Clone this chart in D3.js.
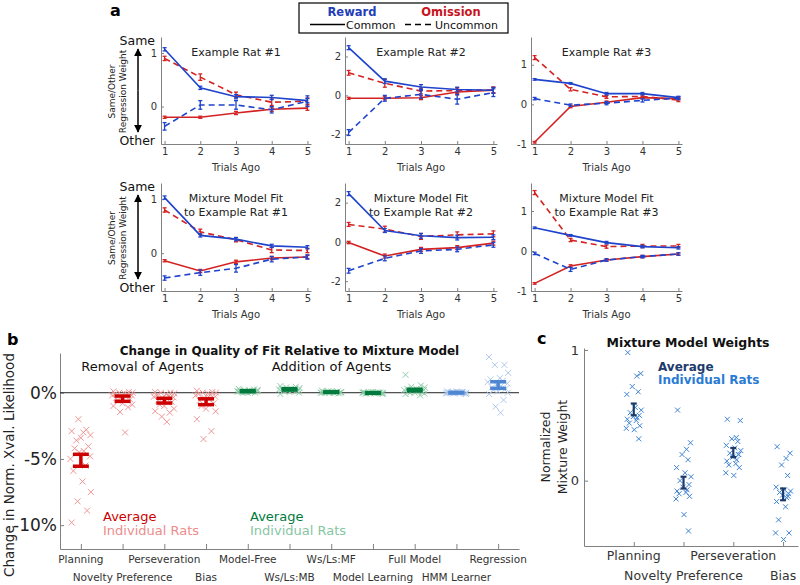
<!DOCTYPE html>
<html><head><meta charset="utf-8">
<script src="https://cdn.jsdelivr.net/npm/d3@7"></script>
<style>
body{margin:0;background:#fff}
svg{font-family:"DejaVu Sans",Verdana,sans-serif}
</style>
</head><body>
<svg id="fig" width="800" height="585"></svg>
<script>
// ---------------- DATA ----------------
const trialsAgo = [1, 2, 3, 4, 5];
// series order: Reward Common, Reward Uncommon, Omission Common, Omission Uncommon
const seriesNames = ["Reward Common", "Reward Uncommon", "Omission Common", "Omission Uncommon"];

const rat1Obs = [
  [1.07, 0.35, 0.185, 0.17, 0.11],
  [-0.37, 0.03, 0.03, -0.06, 0.1],
  [-0.2, -0.2, -0.12, -0.05, -0.03],
  [0.9, 0.55, 0.22, 0.08, 0.1]
];
const rat1ObsErr = [
  [0.03, 0.03, 0.04, 0.04, 0.04],
  [0.07, 0.08, 0.08, 0.06, 0.1],
  [0.02, 0.02, 0.03, 0.04, 0.04],
  [0.04, 0.06, 0.05, 0.06, 0.06]
];
const rat2Obs = [
  [2.45, 0.73, 0.43, 0.3, 0.26],
  [-1.91, -0.15, 0.05, -0.2, 0.14],
  [-0.15, -0.15, -0.12, 0.17, 0.26],
  [1.16, 0.62, 0.22, 0.25, 0.28]
];
const rat2ObsErr = [
  [0.1, 0.12, 0.12, 0.12, 0.15],
  [0.15, 0.15, 0.2, 0.25, 0.2],
  [0.05, 0.08, 0.1, 0.15, 0.15],
  [0.12, 0.2, 0.15, 0.15, 0.15]
];
const rat3Obs = [
  [0.63, 0.53, 0.27, 0.27, 0.17],
  [0.145, -0.02, 0.03, 0.1, 0.16],
  [-0.955, -0.055, 0.055, 0.17, 0.145],
  [1.18, 0.38, 0.19, 0.2, 0.11]
];
const rat3ObsErr = [
  [0.02, 0.02, 0.03, 0.03, 0.03],
  [0.03, 0.03, 0.04, 0.04, 0.04],
  [0.02, 0.03, 0.03, 0.03, 0.03],
  [0.05, 0.04, 0.04, 0.04, 0.04]
];
const rat1Fit = [
  [1.03, 0.33, 0.26, 0.135, 0.11],
  [-0.46, -0.36, -0.28, -0.11, -0.07],
  [-0.14, -0.33, -0.16, -0.09, -0.07],
  [0.8, 0.395, 0.25, 0.06, 0.05]
];
const rat1FitErr = [
  [0.03, 0.03, 0.03, 0.03, 0.03],
  [0.04, 0.05, 0.07, 0.05, 0.04],
  [0.02, 0.03, 0.03, 0.03, 0.03],
  [0.04, 0.05, 0.04, 0.05, 0.04]
];
const rat2Fit = [
  [2.46, 0.58, 0.31, 0.22, 0.24],
  [-1.47, -0.84, -0.46, -0.38, -0.15],
  [-0.03, -0.72, -0.38, -0.29, -0.06],
  [0.89, 0.65, 0.28, 0.36, 0.41]
];
const rat2FitErr = [
  [0.1, 0.1, 0.12, 0.12, 0.12],
  [0.12, 0.12, 0.12, 0.12, 0.12],
  [0.06, 0.1, 0.1, 0.1, 0.1],
  [0.1, 0.15, 0.15, 0.15, 0.15]
];
const rat3Fit = [
  [0.58, 0.39, 0.21, 0.11, 0.08],
  [-0.06, -0.46, -0.225, -0.14, -0.075],
  [-0.81, -0.375, -0.225, -0.14, -0.075],
  [1.46, 0.275, 0.11, 0.125, 0.125]
];
const rat3FitErr = [
  [0.02, 0.02, 0.03, 0.03, 0.03],
  [0.03, 0.05, 0.03, 0.03, 0.03],
  [0.02, 0.03, 0.03, 0.03, 0.03],
  [0.05, 0.04, 0.04, 0.04, 0.04]
];
const obsTitles = [["Example Rat #1"], ["Example Rat #2"], ["Example Rat #3"]];
const fitTitles = [["Mixture Model Fit", "to Example Rat #1"], ["Mixture Model Fit", "to Example Rat #2"], ["Mixture Model Fit", "to Example Rat #3"]];
const aYDomains = [[-0.7, 1.3], [-2.5, 3], [-1, 1.7]];
const aYTicks = [[0, 1], [-2, 0, 2], [-1, 0, 1]];

// Panel b
const bCategories = ["Planning", "Novelty Preference", "Perseveration", "Bias", "Model-Free", "Ws/Ls:MB",
  "Ws/Ls:MF", "Model Learning", "Full Model", "HMM Learner", "Regression"];
const bGroup = ["removal", "removal", "removal", "removal", "addition", "addition", "addition", "addition", "addition", "other", "other"];
const bMeans = [-5.1, -0.45, -0.6, -0.68, 0.12, 0.25, 0.05, -0.02, 0.2, 0.0, 0.58];
const bSems = [0.45, 0.2, 0.18, 0.22, 0.04, 0.05, 0.02, 0.02, 0.06, 0.02, 0.25];
const bIndividual = [
  [-9.8, -8.9, -8.2, -7.5, -6.7, -5.9, -5.5, -5.0, -4.8, -4.5, -4.4, -4.2, -4.05, -3.6, -3.4, -3.2, -2.9, -2.8, -2.0, -3.0],
  [0.1, 0.05, 0, 0, -0.05, -0.1, -0.1, -0.2, -0.2, -0.3, -0.3, -0.4, -0.5, -0.6, -0.8, -0.9, -1.0, -1.1, -1.45, -3.0],
  [0.05, 0, 0, -0.05, -0.1, -0.2, -0.25, -0.3, -0.35, -0.4, -0.5, -0.6, -0.7, -0.9, -1.0, -1.2, -1.4, -1.5, -1.8, -2.2],
  [0.15, 0.05, 0, 0, -0.05, -0.1, -0.15, -0.2, -0.3, -0.4, -0.5, -0.6, -0.8, -1.0, -1.2, -1.4, -2.0, -2.9, -3.5, -0.3],
  [0.3, 0.25, 0.2, 0.2, 0.15, 0.15, 0.1, 0.1, 0.1, 0.05, 0.05, 0.05, 0, 0, 0, 0.2, 0.1, 0.15, 0.05, 0.1],
  [0.5, 0.45, 0.4, 0.35, 0.3, 0.3, 0.25, 0.25, 0.2, 0.2, 0.2, 0.15, 0.1, 0.1, 0.05, 0, -0.1, 0.3, 0.25, 0.2],
  [0.15, 0.1, 0.1, 0.05, 0.05, 0.05, 0, 0, 0, 0, 0, 0, -0.05, 0.05, 0.1, 0.05, 0, 0.05, 0.1, 0],
  [0.05, 0, 0, 0, -0.05, -0.05, 0, 0, -0.05, 0.05, 0, -0.05, 0, 0, 0.05, -0.1, 0, 0, -0.05, 0],
  [1.35, 0.55, 0.45, 0.4, 0.3, 0.3, 0.25, 0.2, 0.2, 0.15, 0.1, 0.1, 0.05, 0, 0, -0.05, -0.1, -0.2, 0.15, 0.2],
  [0.1, 0.05, 0.05, 0, 0, 0, 0, -0.05, -0.05, 0, 0.05, 0, -0.05, 0, 0.1, -0.1, 0, 0.05, -0.05, 0],
  [2.7, 2.1, 2.1, 1.5, 1.1, 1.0, 0.9, 0.8, 0.7, 0.6, 0.5, 0.4, 0.3, 0.2, 0.1, 0, -0.1, -0.55, -1.05, -1.5]
];
const bJitter = [-0.22, 0.15, -0.08, 0.24, 0.04, -0.18, 0.11, -0.25, 0.22, -0.04, 0.07, -0.15, 0.18, -0.11, 0.0, 0.23, -0.22, 0.13, -0.06, 0.06];
const bYTicks = [0, -5, -10];

// Panel c
const cCategories = ["Planning", "Novelty Preference", "Perseveration", "Bias"];
const cMeans = [0.545, -0.015, 0.215, -0.105];
const cSems = [0.045, 0.045, 0.035, 0.045];
const cIndividual = [
  [0.98, 0.82, 0.80, 0.72, 0.68, 0.66, 0.56, 0.54, 0.52, 0.50, 0.49, 0.48, 0.47, 0.46, 0.44, 0.42, 0.40, 0.39, 0.32],
  [0.54, 0.29, 0.24, 0.20, 0.16, 0.10, 0.06, 0.03, 0.0, -0.03, -0.05, -0.07, -0.08, -0.09, -0.10, -0.12, -0.14, -0.26, -0.385],
  [0.47, 0.46, 0.33, 0.32, 0.30, 0.27, 0.25, 0.23, 0.21, 0.20, 0.18, 0.16, 0.15, 0.13, 0.12, 0.10, 0.06, 0.04, 0.2],
  [0.26, 0.21, 0.17, 0.12, 0.04, -0.05, -0.07, -0.08, -0.09, -0.10, -0.11, -0.13, -0.16, -0.20, -0.30, -0.40, -0.40, -0.45, -0.12]
];
const cJitter = [-0.12, 0.14, 0.06, -0.03, 0.09, -0.14, 0.03, 0.15, -0.07, 0.11, -0.01, 0.07, -0.13, 0.05, -0.09, 0.12, -0.15, 0.01, 0.1];
const cYTicks = [0, 1];

// ---------------- DRAWING ----------------
const svg = d3.select("#fig");
const BLUE = "#1f44cc", RED = "#d42222";
const AX = "#808080", TXT = "#333";
const serColor = [BLUE, BLUE, RED, RED];
const serDash = [null, "6,4", null, "6,4"];

function styleAxis(g, fs) {
  g.select(".domain").attr("stroke", AX).attr("stroke-width", 1);
  g.selectAll(".tick line").attr("stroke", AX);
  g.selectAll(".tick text").attr("fill", TXT).attr("font-size", fs).attr("font-family", "DejaVu Sans");
}

const defs = svg.append("defs");
defs.append("marker").attr("id", "ah").attr("viewBox", "0 0 10 10").attr("refX", 9).attr("refY", 5)
  .attr("markerWidth", 8).attr("markerHeight", 9).attr("markerUnits", "userSpaceOnUse").attr("orient", "auto")
  .append("path").attr("d", "M0,0 L10,5 L0,10 Z").attr("fill", "#000");

const colX = [[161, 311], [345, 497], [531, 682]];
const rowY = [[37, 144], [183, 291]];
const rowsData = [[rat1Obs, rat2Obs, rat3Obs], [rat1Fit, rat2Fit, rat3Fit]];
const rowsErr = [[rat1ObsErr, rat2ObsErr, rat3ObsErr], [rat1FitErr, rat2FitErr, rat3FitErr]];
const rowsTitles = [obsTitles, fitTitles];

for (let r = 0; r < 2; r++) {
  for (let c = 0; c < 3; c++) {
    const x = d3.scaleLinear().domain([0.9, 5.1]).range(colX[c]);
    const y = d3.scaleLinear().domain(aYDomains[c]).range([rowY[r][1], rowY[r][0]]);
    const g = svg.append("g");
    const gx = g.append("g").attr("transform", `translate(0,${rowY[r][1]})`)
      .call(d3.axisBottom(x).tickValues(trialsAgo).tickSize(-3).tickSizeOuter(0).tickPadding(4).tickFormat(d3.format("d")));
    styleAxis(gx, 10);
    const gy = g.append("g").attr("transform", `translate(${colX[c][0]},0)`)
      .call(d3.axisLeft(y).tickValues(aYTicks[c]).tickSize(-3).tickSizeOuter(0).tickPadding(4).tickFormat(d3.format("d")));
    styleAxis(gy, 10);
    gy.selectAll(".tick text").text(d => d < 0 ? "-" + Math.abs(d) : d);
    g.append("text").attr("x", (colX[c][0] + colX[c][1]) / 2).attr("y", rowY[r][1] + 27)
      .attr("text-anchor", "middle").attr("font-size", 10).attr("fill", TXT).text("Trials Ago");
    const tl = rowsTitles[r][c];
    tl.forEach((t, i) => {
      g.append("text").attr("x", (colX[c][0] + colX[c][1]) / 2).attr("y", rowY[r][0] + 19 + i * 14)
        .attr("text-anchor", "middle").attr("font-size", 11).attr("fill", "#222").text(t);
    });
    const data = rowsData[r][c], err = rowsErr[r][c];
    for (let s = 3; s >= 0; s--) {
      const line = d3.line().x((d, i) => x(trialsAgo[i])).y(d => y(d));
      g.append("path").datum(data[s]).attr("d", line).attr("fill", "none")
        .attr("stroke", serColor[s]).attr("stroke-width", 1.6)
        .attr("stroke-dasharray", serDash[s]);
      data[s].forEach((v, i) => {
        const e = err[s][i], xx = x(trialsAgo[i]);
        const eb = g.append("g").attr("stroke", serColor[s]).attr("stroke-width", 1.3);
        eb.append("line").attr("x1", xx).attr("x2", xx).attr("y1", y(v - e)).attr("y2", y(v + e));
        eb.append("line").attr("x1", xx - 2).attr("x2", xx + 2).attr("y1", y(v - e)).attr("y2", y(v - e));
        eb.append("line").attr("x1", xx - 2).attr("x2", xx + 2).attr("y1", y(v + e)).attr("y2", y(v + e));
      });
    }
  }
  const yt = rowY[r][0], yb = rowY[r][1];
  svg.append("text").attr("x", 155).attr("y", yt + 8).attr("text-anchor", "end").attr("font-size", 12.5).attr("fill", "#111").text("Same");
  svg.append("text").attr("x", 155).attr("y", yb + 1).attr("text-anchor", "end").attr("font-size", 12.5).attr("fill", "#111").text("Other");
  const ym = (yt + yb) / 2;
  svg.append("line").attr("x1", 138).attr("x2", 138).attr("y1", ym).attr("y2", yt + 12)
    .attr("stroke", "#000").attr("stroke-width", 1.5).attr("marker-end", "url(#ah)");
  svg.append("line").attr("x1", 138).attr("x2", 138).attr("y1", ym).attr("y2", yb - 12)
    .attr("stroke", "#000").attr("stroke-width", 1.5).attr("marker-end", "url(#ah)");
  ["Same/Other", "Regression Weight"].forEach((t, i) => {
    svg.append("text").attr("transform", `translate(${112 + i * 11},${ym + 1}) rotate(-90)`)
      .attr("text-anchor", "middle").attr("dominant-baseline", "central").attr("font-size", 9).attr("fill", "#222").text(t);
  });
}

svg.append("text").attr("x", 110).attr("y", 16).attr("font-size", 16).attr("font-weight", "bold").text("a");

// legend
const lg = svg.append("g");
lg.append("rect").attr("x", 299).attr("y", 3).attr("width", 209).attr("height", 30).attr("fill", "#fff").attr("stroke", "#000").attr("stroke-width", 1.2);
lg.append("text").attr("x", 352).attr("y", 16).attr("text-anchor", "middle").attr("font-size", 11.5).attr("font-weight", "bold").attr("fill", "#1f3fb8").text("Reward");
lg.append("text").attr("x", 451).attr("y", 16).attr("text-anchor", "middle").attr("font-size", 11.5).attr("font-weight", "bold").attr("fill", "#c8141e").text("Omission");
lg.append("line").attr("x1", 310).attr("x2", 345).attr("y1", 24.5).attr("y2", 24.5).attr("stroke", "#000").attr("stroke-width", 1.3);
lg.append("text").attr("x", 346).attr("y", 28.5).attr("font-size", 11).attr("fill", "#111").text("Common");
lg.append("line").attr("x1", 405).attr("x2", 434).attr("y1", 24.5).attr("y2", 24.5).attr("stroke", "#000").attr("stroke-width", 1.3).attr("stroke-dasharray", "6,4");
lg.append("text").attr("x", 435).attr("y", 28.5).attr("font-size", 11).attr("fill", "#111").text("Uncommon");

// ---------------- Panel b ----------------
const bx = d3.scaleLinear().domain([0.5, 11.5]).range([60, 519]);
const by = d3.scaleLinear().domain([-11.8, 3]).range([549, 353]);
const bMeanCol = { removal: "#cc0000", addition: "#007a3d", other: "#4f86d4" };
const bIndCol = { removal: "#ec8c8c", addition: "#86c6a2", other: "#a9c3ea" };
const gb = svg.append("g");
const gbx = gb.append("g").attr("transform", "translate(0,549)")
  .call(d3.axisBottom(bx).tickValues(d3.range(1, 12)).tickSize(-5).tickSizeOuter(0).tickFormat(""));
styleAxis(gbx, 10);
const gby = gb.append("g").attr("transform", "translate(60,0)")
  .call(d3.axisLeft(by).tickValues(bYTicks).tickSize(-4).tickSizeOuter(0).tickPadding(3).tickFormat(d => d + "%"));
styleAxis(gby, 17);
gby.selectAll(".tick text").attr("fill", "#222");
gb.append("line").attr("x1", 60).attr("x2", 519).attr("y1", by(0)).attr("y2", by(0)).attr("stroke", "#222").attr("stroke-width", 1);
bCategories.forEach((cat, i) => {
  gb.append("text").attr("x", bx(i + 1)).attr("y", i % 2 === 0 ? 563 : 581).attr("text-anchor", "middle")
    .attr("font-size", 10.5).attr("fill", TXT).text(cat);
});
bIndividual.forEach((vals, i) => {
  const col = bIndCol[bGroup[i]];
  vals.forEach((v, k) => {
    const cx = bx(i + 1 + bJitter[k]), cy = by(v), h = 3;
    gb.append("path").attr("d", `M${cx - h},${cy - h}L${cx + h},${cy + h}M${cx - h},${cy + h}L${cx + h},${cy - h}`)
      .attr("stroke", col).attr("stroke-width", 1).attr("fill", "none").attr("opacity", 0.9);
  });
});
bMeans.forEach((m, i) => {
  const col = bMeanCol[bGroup[i]], cx = bx(i + 1), lo = by(m - bSems[i]), hi = by(m + bSems[i]);
  const g = gb.append("g").attr("stroke", col).attr("stroke-width", 3.5);
  g.append("line").attr("x1", cx).attr("x2", cx).attr("y1", lo).attr("y2", hi);
  g.append("line").attr("x1", cx - 8).attr("x2", cx + 8).attr("y1", lo).attr("y2", lo);
  g.append("line").attr("x1", cx - 8).attr("x2", cx + 8).attr("y1", hi).attr("y2", hi);
});
gb.append("text").attr("x", 289.5).attr("y", 355).attr("text-anchor", "middle").attr("font-size", 12).attr("font-weight", "bold").attr("fill", "#111")
  .text("Change in Quality of Fit Relative to Mixture Model");
gb.append("text").attr("x", 142.5).attr("y", 371).attr("text-anchor", "middle").attr("font-size", 13).attr("fill", "#111").text("Removal of Agents");
gb.append("text").attr("x", 331.5).attr("y", 371).attr("text-anchor", "middle").attr("font-size", 13).attr("fill", "#111").text("Addition of Agents");
gb.append("text").attr("x", 103).attr("y", 521).attr("font-size", 13).attr("fill", "#cc0000").text("Average");
gb.append("text").attr("x", 103).attr("y", 535).attr("font-size", 13).attr("fill", "#ec8c8c").text("Individual Rats");
gb.append("text").attr("x", 250).attr("y", 521).attr("font-size", 13).attr("fill", "#007a3d").text("Average");
gb.append("text").attr("x", 250).attr("y", 535).attr("font-size", 13).attr("fill", "#86c6a2").text("Individual Rats");
gb.append("text").attr("transform", "translate(9,465) rotate(-90)").attr("text-anchor", "middle").attr("dominant-baseline", "central")
  .attr("font-size", 13.5).attr("fill", "#222").text("Change in Norm. Xval. Likelihood");
svg.append("text").attr("x", 7).attr("y", 345).attr("font-size", 16).attr("font-weight", "bold").text("b");

// ---------------- Panel c ----------------
const cx = d3.scaleLinear().domain([0, 4.3]).range([584, 798]);
const cy = d3.scaleLinear().domain([-0.5, 1.015]).range([546, 348]);
const gc = svg.append("g");
const gcx = gc.append("g").attr("transform", "translate(0,546)")
  .call(d3.axisBottom(cx).tickValues([1, 2, 3, 4]).tickSize(-4).tickSizeOuter(0).tickFormat(""));
styleAxis(gcx, 12);
const gcy = gc.append("g").attr("transform", "translate(584,0)")
  .call(d3.axisLeft(cy).tickValues(cYTicks).tickSize(-4).tickSizeOuter(0).tickPadding(5).tickFormat(d3.format("d")));
styleAxis(gcy, 13);
cCategories.forEach((cat, i) => {
  gc.append("text").attr("x", cx(i + 1)).attr("y", i % 2 === 0 ? 560 : 580).attr("text-anchor", "middle")
    .attr("font-size", 12.5).attr("fill", TXT).text(cat);
});
cIndividual.forEach((vals, i) => {
  vals.forEach((v, k) => {
    const px = cx(i + 1 + cJitter[k]), py = cy(v), h = 2.5;
    gc.append("path").attr("d", `M${px - h},${py - h}L${px + h},${py + h}M${px - h},${py + h}L${px + h},${py - h}`)
      .attr("stroke", "#3d82d2").attr("stroke-width", 1).attr("fill", "none");
  });
});
cMeans.forEach((m, i) => {
  const px = cx(i + 1), lo = cy(m - cSems[i]), hi = cy(m + cSems[i]);
  const g = gc.append("g").attr("stroke", "#1c3a6b").attr("stroke-width", 2.2);
  g.append("line").attr("x1", px).attr("x2", px).attr("y1", lo).attr("y2", hi);
  g.append("line").attr("x1", px - 3).attr("x2", px + 3).attr("y1", lo).attr("y2", lo);
  g.append("line").attr("x1", px - 3).attr("x2", px + 3).attr("y1", hi).attr("y2", hi);
});
gc.append("text").attr("x", 688).attr("y", 347).attr("text-anchor", "middle").attr("font-size", 12.5).attr("font-weight", "bold").attr("fill", "#111").text("Mixture Model Weights");
gc.append("text").attr("x", 658).attr("y", 371).attr("font-size", 12).attr("font-weight", "bold").attr("fill", "#1c3a6b").text("Average");
gc.append("text").attr("x", 658).attr("y", 384).attr("font-size", 12).attr("font-weight", "bold").attr("fill", "#2a7bd4").text("Individual Rats");
["Normalized", "Mixture Weight"].forEach((t, i) => {
  gc.append("text").attr("transform", `translate(${545 + i * 17},447) rotate(-90)`).attr("text-anchor", "middle")
    .attr("dominant-baseline", "central").attr("font-size", 12.5).attr("fill", "#222").text(t);
});
svg.append("text").attr("x", 537).attr("y", 344).attr("font-size", 16).attr("font-weight", "bold").text("c");
</script>
</body></html>
